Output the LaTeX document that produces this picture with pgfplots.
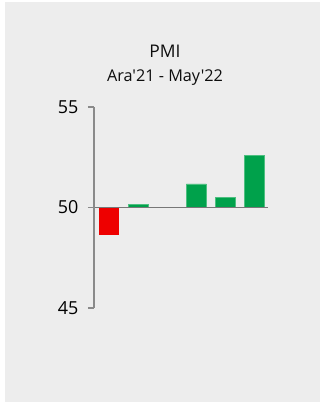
\documentclass[border=0pt]{standalone}
\usepackage{pgfplots}
\pgfplotsset{compat=1.18}
\usepackage{fontspec}
\setmainfont{Open Sans}[Ligatures=TeXOff]
\definecolor{panel}{HTML}{EDEDED}
\definecolor{barred}{HTML}{EE0000}
\definecolor{bargreen}{HTML}{00A14B}
\definecolor{bargreenedge}{HTML}{4DBF80}
\definecolor{axisgray}{HTML}{8A8A8A}
\definecolor{basegray}{HTML}{777777}
\begin{document}
\begin{tikzpicture}[x=1bp,y=1bp]
\useasboundingbox (0,0) rectangle (321,405);
\fill[panel] (5,3) rectangle (320,403);
\node[anchor=base,font=\fontsize{17.5}{20}\selectfont,text=black!95] at (165,348) {PMI};
\node[anchor=base,font=\fontsize{16.3}{19}\selectfont,text=black!95] at (165,324) {Ara'21 - May'22};
\begin{axis}[
  at={(94bp,97bp)}, anchor=south west,
  scale only axis, width=174bp, height=201bp,
  xmin=-0.52, xmax=5.47,
  ymin=-5, ymax=5,
  y filter/.expression={y-50},
  ytick={-5,0,5}, yticklabels={45,50,55},
  xtick=\empty,
  axis y line*=left,
  axis x line*=middle,
  axis line style={-, line width=1.2bp},
  y axis line style={axisgray},
  x axis line style={basegray},
  tick align=outside,
  major tick length=6bp,
  y tick style={axisgray, line width=1.2bp},
  /pgf/number format/assume math mode=true,
  yticklabel style={font=\fontsize{18}{20}\selectfont, text=black, xshift=-6bp},
  axis on top,
  clip=false,
]
\addplot[ybar, bar width=20bp, bar shift=0pt, fill=barred, draw=none] table {
x y
0 48.63
};
\addplot[ybar, bar width=20bp, bar shift=0pt, fill=bargreen, draw=bargreenedge, line width=0.8bp] table {
x y
1 50.17
3 51.17
4 50.52
5 52.60
};
\end{axis}
\end{tikzpicture}
\end{document}
